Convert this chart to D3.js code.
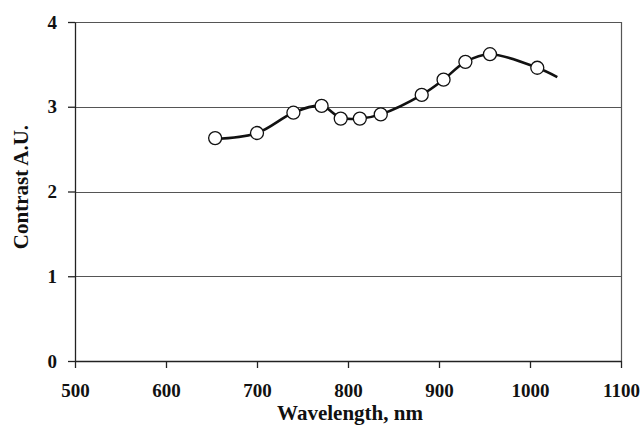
<!DOCTYPE html>
<html>
<head>
<meta charset="utf-8">
<script src="https://cdn.jsdelivr.net/npm/d3@7"></script>
<style>
  body { margin: 0; background: #fff; }
  text { font-family: "Liberation Serif", "Times New Roman", serif; font-weight: bold; fill: #111; }
</style>
</head>
<body>
<div id="chart"></div>
<script>
// Measured points
var wavelength = [654, 700, 740, 771, 792, 813, 836, 881, 905, 929, 956, 1008];
var contrast = [2.63, 2.69, 2.93, 3.01, 2.86, 2.86, 2.91, 3.14, 3.32, 3.53, 3.62, 3.46];

// Smoothed line (runs past the last point)
var lineWavelength = [654, 700, 740, 771, 792, 813, 836, 881, 905, 929, 956, 1008, 1030];
var lineContrast = [2.62, 2.69, 2.93, 3.01, 2.87, 2.86, 2.91, 3.14, 3.32, 3.53, 3.62, 3.46, 3.35];

var xTicks = [500, 600, 700, 800, 900, 1000, 1100];
var yTicks = [0, 1, 2, 3, 4];

var W = 643, H = 428,
    margin = {top: 22, right: 22, bottom: 67, left: 75},
    width = W - margin.left - margin.right,
    height = H - margin.top - margin.bottom;

var x = d3.scaleLinear().domain([500, 1100]).range([0, width]),
    y = d3.scaleLinear().domain([0, 4]).range([height, 0]);

var svg = d3.select("#chart").append("svg")
    .attr("width", W)
    .attr("height", H)
  .append("g")
    .attr("transform", "translate(" + margin.left + "," + margin.top + ")");

// horizontal grid lines
svg.append("g")
  .selectAll("line")
  .data(yTicks.filter(function(d) { return d > 0; }))
  .enter().append("line")
    .attr("x1", 0)
    .attr("x2", width)
    .attr("y1", function(d) { return Math.round(y(d)) + 0.5; })
    .attr("y2", function(d) { return Math.round(y(d)) + 0.5; })
    .attr("stroke", "#555")
    .attr("stroke-width", 1.2);

// right border
svg.append("line")
  .attr("x1", width + 0.5).attr("x2", width + 0.5)
  .attr("y1", 0).attr("y2", height)
  .attr("stroke", "#555")
  .attr("stroke-width", 1.2);

// X axis
var xAxis = svg.append("g")
  .attr("transform", "translate(0," + height + ")")
  .call(d3.axisBottom(x).tickValues(xTicks).tickSize(7).tickSizeOuter(0).tickFormat(d3.format("d")));
xAxis.selectAll("text")
  .attr("dy", "1.35em")
  .style("font-size", "19px")
  .style("font-family", "Liberation Serif");

// Y axis
var yAxis = svg.append("g")
  .call(d3.axisLeft(y).tickValues(yTicks).tickSize(7).tickSizeOuter(0).tickFormat(d3.format("d")));
yAxis.selectAll("text")
  .attr("x", -18)
  .style("font-size", "19px")
  .style("font-family", "Liberation Serif");

svg.selectAll(".domain").attr("stroke", "#222").attr("stroke-width", 1.3);
svg.selectAll(".tick line").attr("stroke", "#222").attr("stroke-width", 1.3);

// axis titles
svg.append("text")
  .attr("x", x(800) + 2)
  .attr("y", height + 59)
  .style("text-anchor", "middle")
  .style("font-size", "21px")
  .text("Wavelength, nm");

svg.append("text")
  .attr("transform", "rotate(-90)")
  .attr("x", -(187 - margin.top))
  .attr("y", -margin.left + 28)
  .style("text-anchor", "middle")
  .style("font-size", "21px")
  .text("Contrast A.U.");

// smoothed line
var lineData = lineWavelength.map(function(d, i) { return [d, lineContrast[i]]; });
svg.append("path")
  .datum(lineData)
  .attr("fill", "none")
  .attr("stroke", "#111")
  .attr("stroke-width", 2.6)
  .attr("d", d3.line()
    .x(function(d) { return x(d[0]); })
    .y(function(d) { return y(d[1]); })
    .curve(d3.curveCatmullRom.alpha(0.5)));

// markers
svg.selectAll("circle")
  .data(wavelength)
  .enter().append("circle")
    .attr("cx", function(d) { return x(d); })
    .attr("cy", function(d, i) { return y(contrast[i]); })
    .attr("r", 6.5)
    .attr("fill", "#fff")
    .attr("stroke", "#111")
    .attr("stroke-width", 1.3);
</script>
</body>
</html>
